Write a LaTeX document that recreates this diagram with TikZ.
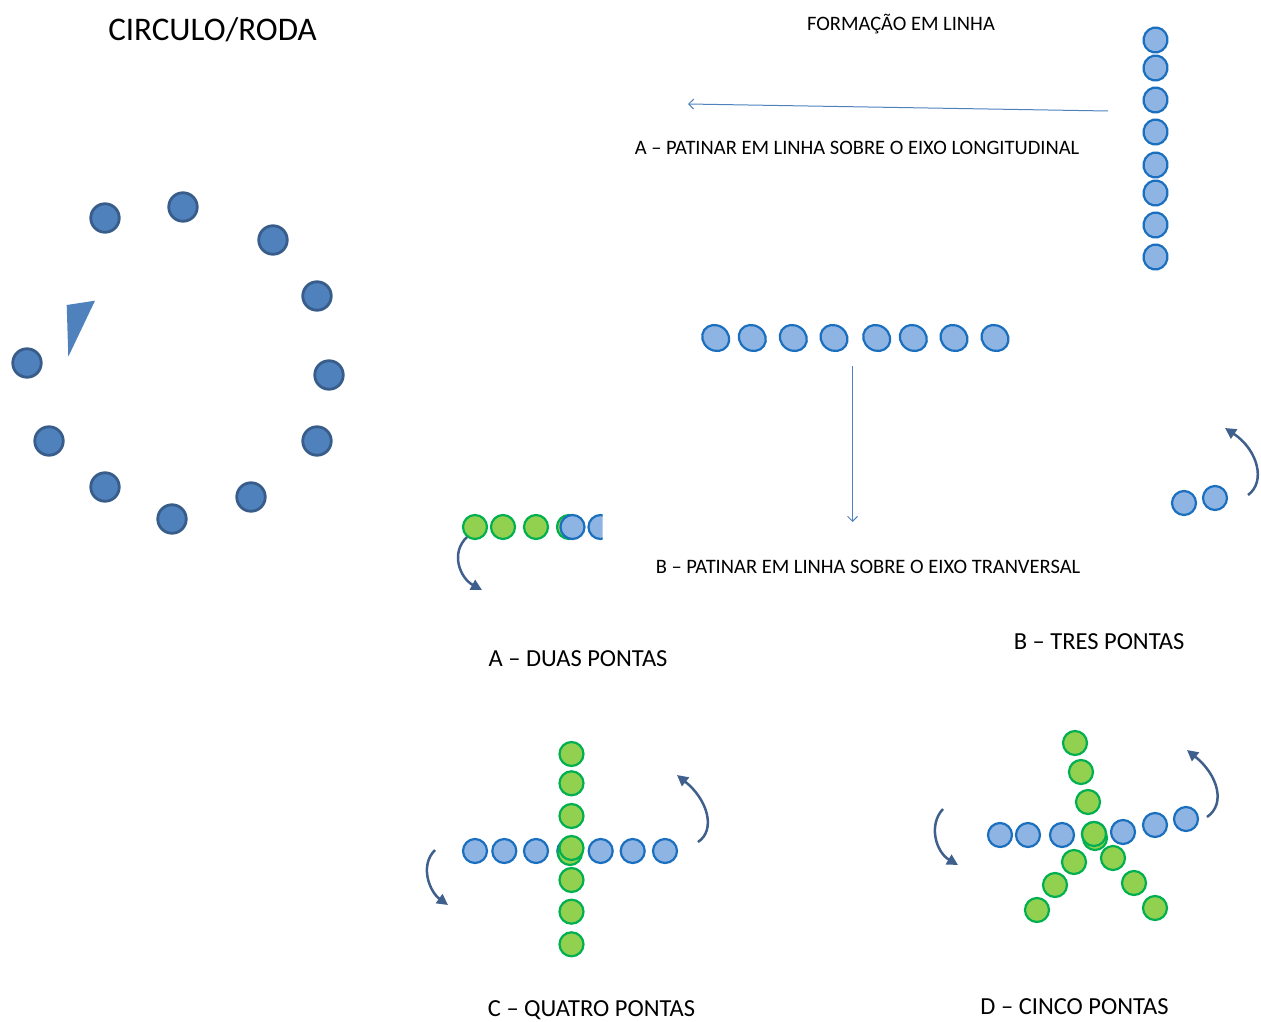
\documentclass[tikz,border=0pt]{standalone}
\usepackage{fontspec}
\setmainfont{Carlito}
\usetikzlibrary{arrows.meta,shapes.geometric}
\definecolor{dkfill}{HTML}{4F81BD}
\definecolor{dkline}{HTML}{385D8A}
\definecolor{ltfill}{HTML}{8DB4E2}
\definecolor{ltline}{HTML}{1A6FBF}
\definecolor{gfill}{HTML}{92D050}
\definecolor{gline}{HTML}{00B050}
\definecolor{thinc}{HTML}{4F81BD}
\definecolor{turnc}{HTML}{3F5F8C}
\begin{document}
\begin{tikzpicture}[x=1pt,y=-1pt,
  dkdot/.style={circle,draw=dkline,fill=dkfill,line width=2.8pt,minimum size=28.5pt,inner sep=0pt},
  ltdot/.style={ellipse,draw=ltline,fill=ltfill,line width=2.2pt,minimum width=24pt,minimum height=25pt,inner sep=0pt},
  ltcirc/.style={circle,draw=ltline,fill=ltfill,line width=2.2pt,minimum size=24pt,inner sep=0pt},
  gdot/.style={circle,draw=gline,fill=gfill,line width=2.2pt,minimum size=24pt,inner sep=0pt},
  thinarrow/.style={draw=thinc,line width=1pt,-{Straight Barb[length=5pt,width=10pt]}},
  turn/.style={draw=turnc,line width=2.5pt,-{Triangle[length=11pt,width=11pt]}},
  lbl/.style={font=\fontsize{20.5}{24}\selectfont,text=black,inner sep=0pt},
  lblb/.style={font=\fontsize{24.5}{29}\selectfont,text=black,inner sep=0pt,anchor=base},
  title/.style={font=\fontsize{33}{39}\selectfont,text=black,inner sep=0pt}]
\useasboundingbox (0,0) rectangle (1261,1022);

% ---- circle / wheel ----
\node[title] (tcirc) at (212.5,30) {CIRCULO/RODA};
\foreach \x/\y [count=\i] in {105/218,183/207,273/240,317/296,329/375,317/441,251/497,172/519,105/487,49/441,27/363}
  \node[dkdot] (c\i) at (\x,\y) {};
\fill[dkfill] (66.7,305) -- (95,300.7) -- (68.3,356.7) -- cycle;

% ---- line formation ----
\node[lbl] (tform) at (901,24) {FORMAÇÃO EM LINHA};
\foreach \y [count=\i] in {40,68,100,132,165,193,225,257}
  \node[ltdot,rotate=-10] (v\i) at (1155.5,\y) {};
\coordinate (a1s) at (1108,111);
\coordinate (a1e) at (688,104);
\draw[thinarrow] (a1s) -- (a1e);
\node[lbl] (tA) at (857,148) {A – PATINAR EM LINHA SOBRE O EIXO LONGITUDINAL};

\foreach \x [count=\i] in {715.7,752.3,793.3,834,876.7,913.3,954,995}
  \node[ltdot,rotate=-35,minimum width=28pt,minimum height=25pt] (h\i) at (\x,338) {};
\coordinate (a2s) at (852.5,366);
\coordinate (a2e) at (852.5,522);
\draw[thinarrow] (a2s) -- (a2e);
\node[lbl] (tB) at (868,567) {B – PATINAR EM LINHA SOBRE O EIXO TRANVERSAL};

% ---- duas pontas ----
\foreach \x [count=\i] in {475,503,536,569}
  \node[gdot] (d\i) at (\x,527) {};
\node[ltcirc] (db1) at (572.5,527) {};
\begin{scope}
  \clip (585,500) rectangle (602.5,560);
  \node[ltcirc] (db2) at (600.5,527) {};
\end{scope}
\coordinate (ds) at (467,537);
\coordinate (de) at (482,590);
\draw[turn] (ds) .. controls (450,553) and (460,578) .. (de);
\node[lblb] (tD) at (578,666.5) {A – DUAS PONTAS};

% ---- tres pontas ----
\node[ltcirc] (t1) at (1184,503) {};
\node[ltcirc] (t2) at (1215,498) {};
\coordinate (ts) at (1248,495);
\coordinate (te) at (1225,428);
\draw[turn] (ts) .. controls (1266,482) and (1258,450) .. (te);
\node[lblb] (tT) at (1099,649.5) {B – TRES PONTAS};

% ---- quatro pontas ----
\foreach \x [count=\i] in {475,504.3,536,569.3,600.7,632.7,665}
  \node[ltcirc] (qh\i) at (\x,851) {};
\foreach \y [count=\i] in {754,783.3,816,880,911.7,944.3}
  \node[gdot] (qv\i) at (571.5,\y) {};
\node[gdot] (qc2) at (570,853) {};
\node[gdot] (qc) at (571.5,848) {};
\coordinate (ql1) at (435,850);
\coordinate (ql2) at (448,905);
\draw[turn] (ql1) .. controls (419,866) and (430,892) .. (ql2);
\coordinate (qr1) at (698,842);
\coordinate (qr2) at (677,775);
\draw[turn] (qr1) .. controls (716,830) and (708,800) .. (qr2);
\node[lblb] (tQ) at (591.5,1016.5) {C – QUATRO PONTAS};

% ---- cinco pontas ----
\foreach \x/\y [count=\i] in {1000/835,1028/835,1062/835,1094/834,1123/832,1155/825,1186/819}
  \node[ltcirc] (sh\i) at (\x,\y) {};
\foreach \x/\y [count=\i] in {1075/743,1081/772,1088/802,1074/862,1055/885,1037/910,1113/858,1134/883,1155/908}
  \node[gdot] (sg\i) at (\x,\y) {};
\node[gdot] (sc2) at (1095,838) {};
\node[gdot] (sc) at (1094,834) {};
\coordinate (sl1) at (943,809);
\coordinate (sl2) at (958,865);
\draw[turn] (sl1) .. controls (928,825) and (936,852) .. (sl2);
\coordinate (sr1) at (1207,817);
\coordinate (sr2) at (1187,750);
\draw[turn] (sr1) .. controls (1226,804) and (1218,775) .. (sr2);
\node[lblb] (tC) at (1074.5,1014) {D – CINCO PONTAS};
\end{tikzpicture}
\end{document}
